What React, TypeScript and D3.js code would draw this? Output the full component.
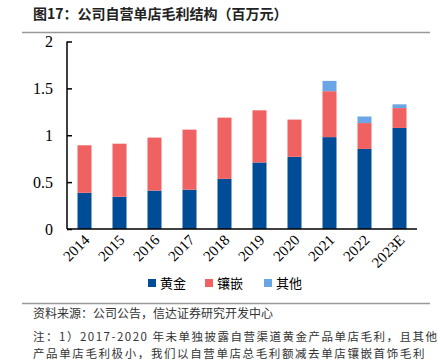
import * as d3 from 'd3';
import { useEffect, useRef } from 'react';

const years = ['2014', '2015', '2016', '2017', '2018', '2019', '2020', '2021', '2022', '2023E'];
const gold = [0.386, 0.344, 0.41, 0.42, 0.535, 0.71, 0.77, 0.98, 0.854, 1.078];
const inlay = [0.507, 0.566, 0.565, 0.64, 0.653, 0.556, 0.397, 0.49, 0.276, 0.212];
const other = [0, 0, 0, 0, 0, 0, 0, 0.11, 0.07, 0.04];
const seriesNames = ['黄金', '镶嵌', '其他'];
const colors = ['#004c97', '#f06262', '#6aa5e6'];
const yTicks = [0, 0.5, 1, 1.5, 2];

const W = 440, H = 362;

export default function App() {
    const ref = useRef<SVGSVGElement>(null);

    useEffect(() => {
        const svg = d3.select(ref.current);
        svg.selectAll('*').remove();

        const serif = '"Liberation Serif", "Times New Roman", serif';
        const cjk = '"Noto Sans CJK SC", sans-serif';

        // title
        svg.append('text')
            .attr('x', 33).attr('y', 19)
            .style('font-family', cjk).style('font-size', '14px').style('font-weight', 'bold')
            .attr('fill', '#222')
            .text('图17：公司自营单店毛利结构（百万元）');
        svg.append('line')
            .attr('x1', 22).attr('x2', 430).attr('y1', 32.5).attr('y2', 32.5)
            .attr('stroke', '#999').attr('stroke-width', 1.5);

        const left = 67, right = 417, top = 41.5, bottom = 229;

        const x = d3.scaleBand().domain(years).range([left, right]).paddingInner(0.6).paddingOuter(0.3);
        const y = d3.scaleLinear().domain([0, 2]).range([bottom, top]);

        const table = years.map((yr, i) => ({ year: yr, gold: gold[i], inlay: inlay[i], other: other[i] }));
        const stack = d3.stack<any>().keys(['gold', 'inlay', 'other'])(table);

        svg.append('g').selectAll('g')
            .data(stack)
            .enter().append('g')
            .attr('fill', (_d, i) => colors[i])
            .selectAll('rect')
            .data(d => d.filter(p => p[1] - p[0] > 0))
            .enter().append('rect')
            .attr('x', (d: any) => x(d.data.year)!)
            .attr('width', x.bandwidth())
            .attr('y', d => y(d[1]))
            .attr('height', d => y(d[0]) - y(d[1]));

        // y axis
        const yAxis = svg.append('g')
            .attr('transform', `translate(${left},0)`)
            .call(d3.axisRight(y).tickValues(yTicks).tickSize(5).tickFormat(d => String(d)));
        yAxis.select('.domain').attr('stroke', '#000').attr('stroke-width', 1.5).attr('d', `M0,${top}V${bottom}`);
        yAxis.selectAll('.tick line').attr('stroke', '#000').attr('stroke-width', 1.5);
        yAxis.selectAll('.tick text')
            .attr('x', -14).attr('dy', '0.32em')
            .attr('text-anchor', 'end')
            .style('font-family', serif).style('font-size', '16px').attr('fill', '#000');

        // x axis
        const xAxis = svg.append('g')
            .attr('transform', `translate(0,${bottom})`)
            .call(d3.axisBottom(x).tickSize(0));
        xAxis.select('.domain').attr('stroke', '#000').attr('stroke-width', 1.5).attr('d', `M${left},0H${right}`);
        xAxis.selectAll('.tick text')
            .attr('y', 0).attr('dy', 0)
            .attr('transform', 'translate(6,12) rotate(-45)')
            .attr('text-anchor', 'end')
            .style('font-family', serif).style('font-size', '15px').attr('fill', '#000');

        // legend
        const legendX = [148, 205, 264];
        seriesNames.forEach((name, i) => {
            const g = svg.append('g').attr('transform', `translate(${legendX[i]},283)`);
            g.append('rect').attr('x', 0).attr('y', -4).attr('width', 8).attr('height', 8).attr('fill', colors[i]);
            g.append('text').attr('x', 12).attr('y', 0).attr('dy', '0.35em')
                .style('font-family', cjk).style('font-size', '13px').attr('fill', '#000')
                .text(name);
        });

        svg.append('line')
            .attr('x1', 22).attr('x2', 430).attr('y1', 303.5).attr('y2', 303.5)
            .attr('stroke', '#999').attr('stroke-width', 1.5);

        const notes = [
            { t: '资料来源：公司公告，信达证券研究开发中心', y: 318, s: 12, ls: 0 },
            { t: '注：1）2017-2020 年未单独披露自营渠道黄金产品单店毛利，且其他', y: 341, s: 11.5, ls: 1.5 },
            { t: '产品单店毛利极小，我们以自营单店总毛利额减去单店镶嵌首饰毛利', y: 358, s: 11.5, ls: 1.6 },
        ];
        notes.forEach(n => {
            svg.append('text').attr('x', 33).attr('y', n.y)
                .style('font-family', cjk).style('font-size', `${n.s}px`)
                .style('letter-spacing', `${n.ls}px`).attr('fill', '#333')
                .text(n.t);
        });
    }, []);

    return (
        <svg ref={ref} width={W} height={H}
            style={{ position: 'absolute', left: 0, top: 0, background: '#fff' }} />
    );
}
